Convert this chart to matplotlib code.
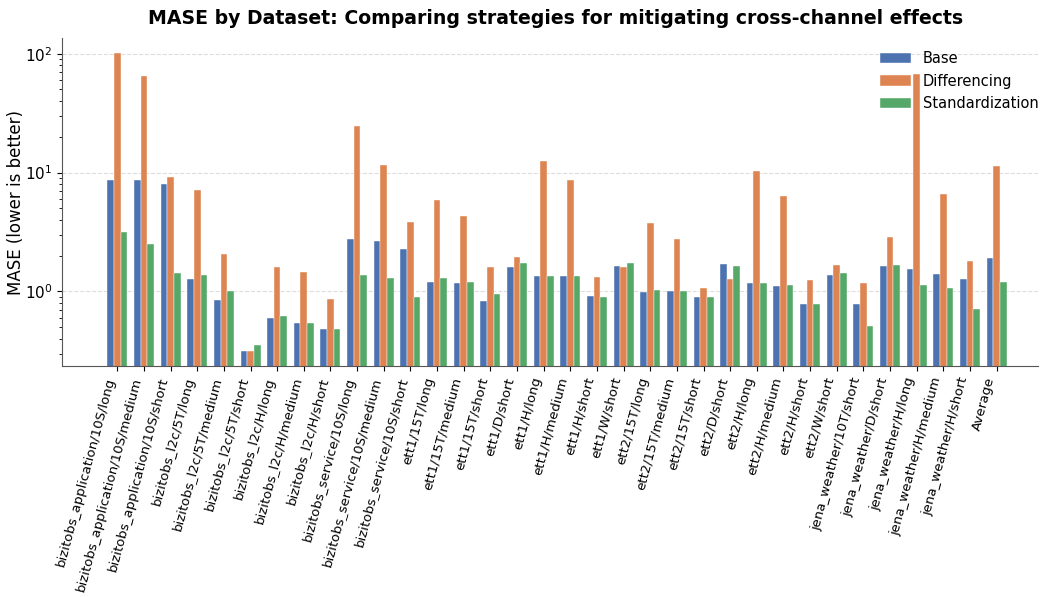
import numpy as np
import matplotlib
matplotlib.use("Agg")
import matplotlib.pyplot as plt

datasets = [
    "bizitobs_application/10S/long", "bizitobs_application/10S/medium", "bizitobs_application/10S/short",
    "bizitobs_l2c/5T/long", "bizitobs_l2c/5T/medium", "bizitobs_l2c/5T/short",
    "bizitobs_l2c/H/long", "bizitobs_l2c/H/medium", "bizitobs_l2c/H/short",
    "bizitobs_service/10S/long", "bizitobs_service/10S/medium", "bizitobs_service/10S/short",
    "ett1/15T/long", "ett1/15T/medium", "ett1/15T/short",
    "ett1/D/short",
    "ett1/H/long", "ett1/H/medium", "ett1/H/short",
    "ett1/W/short",
    "ett2/15T/long", "ett2/15T/medium", "ett2/15T/short",
    "ett2/D/short",
    "ett2/H/long", "ett2/H/medium", "ett2/H/short",
    "ett2/W/short",
    "jena_weather/10T/short", "jena_weather/D/short",
    "jena_weather/H/long", "jena_weather/H/medium", "jena_weather/H/short",
    "Average",
]

base = [8.7, 8.6, 7.96, 1.27, 0.845, 0.318, 0.592, 0.544, 0.484,
        2.77, 2.65, 2.27, 1.21, 1.17, 0.829, 1.60, 1.36, 1.345, 0.913,
        1.63, 0.99, 1.0, 0.89, 1.70, 1.168, 1.11, 0.782, 1.38,
        0.787, 1.64, 1.55, 1.40, 1.28, 1.91]
differencing = [101.0, 64.8, 9.13, 7.13, 2.06, 0.314, 1.62, 1.46, 0.861,
                24.5, 11.5, 3.84, 5.91, 4.31, 1.59, 1.93, 12.4, 8.61, 1.31,
                1.59, 3.74, 2.74, 1.07, 1.28, 10.3, 6.35, 1.24, 1.67,
                1.17, 2.87, 67.3, 6.64, 1.81, 11.4]
standardization = [3.18, 2.49, 1.43, 1.37, 1.0, 0.353, 0.616, 0.544, 0.486,
                   1.37, 1.29, 0.895, 1.29, 1.21, 0.949, 1.72, 1.35, 1.345, 0.895,
                   1.74, 1.02, 1.0, 0.895, 1.64, 1.168, 1.13, 0.79, 1.44,
                   0.51, 1.67, 1.14, 1.07, 0.71, 1.21]

series = [("Base", base, "#4C72B0"),
          ("Differencing", differencing, "#DD8452"),
          ("Standardization", standardization, "#55A868")]

fig = plt.figure(figsize=(10.4, 5.97), dpi=100)
ax = fig.add_axes([0.06, 0.387, 0.938, 0.549])

x = np.arange(len(datasets))
w = 0.25
for i, (name, vals, col) in enumerate(series):
    ax.bar(x + (i - 1) * w, vals, w, label=name, color=col,
           edgecolor="white", linewidth=0.3, zorder=2)

ax.set_yscale("log")
ax.set_ylim(0.236, 135)
ax.set_xlim(-2.06, 34.55)
ax.set_xticks(x)
ax.set_xticklabels(datasets, rotation=75, ha="right", fontsize=9.5)
ax.tick_params(axis="y", labelsize=11)
ax.set_ylabel("MASE (lower is better)", fontsize=12)
ax.yaxis.set_label_coords(-0.038, 0.5)
ax.set_title("MASE by Dataset: Comparing strategies for mitigating cross-channel effects",
             fontsize=13.6, fontweight="bold", pad=10, x=0.506)
ax.grid(axis="y", which="major", linestyle="--", color="#dddddd", linewidth=0.8, zorder=0)
ax.set_axisbelow(True)
ax.spines["top"].set_visible(False)
ax.spines["right"].set_visible(False)
for s in ["left", "bottom"]:
    ax.spines[s].set_color("#555555")
ax.legend(loc="upper right", frameon=False, fontsize=10.5,
          bbox_to_anchor=(1.014, 1.0), handlelength=2.1, handletextpad=0.8)

fig.savefig("out.png", dpi=100)
